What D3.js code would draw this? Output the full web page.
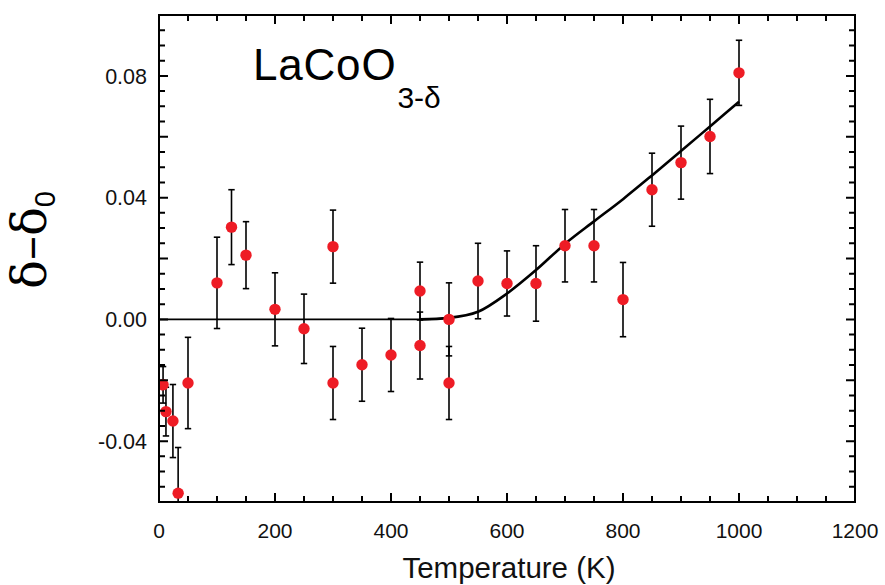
<!DOCTYPE html>
<html>
<head>
<meta charset="utf-8">
<script src="https://cdn.jsdelivr.net/npm/d3@7"></script>
<style>
  html, body { margin: 0; padding: 0; background: #fff; }
  svg { display: block; font-family: "Liberation Sans", Arial, Helvetica, sans-serif; }
</style>
</head>
<body>
<svg id="chart" width="885" height="585"></svg>
<script>
// ---- data ----
const temperatures = [7, 12, 24, 33, 50, 100, 125, 150, 200, 250, 300, 300, 350, 400, 450, 450, 500, 500, 550, 600, 650, 700, 750, 800, 850, 900, 950, 1000];
const deltaValues = [-0.0215, -0.0303, -0.0334, -0.0571, -0.0209, 0.0120, 0.0303, 0.0211, 0.0033, -0.0031, 0.0239, -0.0209, -0.0149, -0.0117, 0.0093, -0.0086, 0.0000, -0.0209, 0.0126, 0.0118, 0.0118, 0.0242, 0.0242, 0.0065, 0.0426, 0.0515, 0.0601, 0.0810];
const errorValues = [0.006, 0.008, 0.012, 0.015, 0.015, 0.015, 0.0123, 0.011, 0.012, 0.0114, 0.012, 0.012, 0.012, 0.012, 0.0095, 0.011, 0.012, 0.012, 0.0124, 0.0107, 0.0124, 0.0119, 0.0119, 0.0122, 0.012, 0.012, 0.0122, 0.0107];

const fitTemperatures = [0, 450, 500, 550, 600, 650, 700, 750, 800, 850, 900, 950, 1000];
const fitValues = [0, 0, 0.0005, 0.0025, 0.0085, 0.0162, 0.0248, 0.0322, 0.0395, 0.0473, 0.0553, 0.0634, 0.0715];

const xTickValues = [0, 200, 400, 600, 800, 1000, 1200];
const xTickLabels = ["0", "200", "400", "600", "800", "1000", "1200"];
const yTickValues = [-0.04, 0, 0.04, 0.08];
const yTickLabels = ["-0.04", "0.00", "0.04", "0.08"];

const xLabel = "Temperature (K)";
const titleMain = "LaCoO";
const titleSub = "3-δ";

// ---- layout ----
const svg = d3.select("#chart");
const pLeft = 159, pRight = 855, pTop = 15, pBottom = 502;

const x = d3.scaleLinear().domain([0, 1200]).range([pLeft, pRight]);
const y = d3.scaleLinear().domain([-0.06, 0.10]).range([pBottom, pTop]);

svg.append("defs").append("clipPath").attr("id", "plotclip")
  .append("rect").attr("x", pLeft + 1).attr("y", pTop + 1)
  .attr("width", pRight - pLeft - 2).attr("height", pBottom - pTop - 2);

const plot = svg.append("g").attr("clip-path", "url(#plotclip)");

// fit line (flat part thinner, rising part thicker)
const line = d3.line()
  .x(d => x(d[0])).y(d => y(d[1]))
  .curve(d3.curveMonotoneX);
const fitData = fitTemperatures.map((t, i) => [t, fitValues[i]]);
plot.append("path")
  .datum(fitData.filter(d => d[0] <= 500))
  .attr("d", line)
  .attr("fill", "none").attr("stroke", "#000").attr("stroke-width", 1.8);
plot.append("path")
  .datum(fitData.filter(d => d[0] >= 450))
  .attr("d", line)
  .attr("fill", "none").attr("stroke", "#000").attr("stroke-width", 2.6);

const pts = temperatures.map((t, i) => ({ t, v: deltaValues[i], e: errorValues[i] }));

// error bars
const eb = plot.append("g").attr("stroke", "#000").attr("stroke-width", 1.6);
pts.forEach(p => {
  const cx = x(p.t);
  eb.append("line").attr("x1", cx).attr("x2", cx).attr("y1", y(p.v + p.e)).attr("y2", y(p.v - p.e));
  eb.append("line").attr("x1", cx - 3.2).attr("x2", cx + 3.2).attr("y1", y(p.v + p.e)).attr("y2", y(p.v + p.e));
  eb.append("line").attr("x1", cx - 3.2).attr("x2", cx + 3.2).attr("y1", y(p.v - p.e)).attr("y2", y(p.v - p.e));
});

// points
plot.append("g").selectAll("circle").data(pts).join("circle")
  .attr("cx", d => x(d.t)).attr("cy", d => y(d.v))
  .attr("r", 5.7).attr("fill", "#ee1c25");

// ---- ticks (inward on all four sides) ----
const xAll = d3.range(0, 1201, 50);
const yAll = d3.range(-60, 101, 5).map(v => v / 1000);
const isXMajor = v => v % 200 === 0;
const isYMajor = v => Math.abs(Math.round(v * 1000) % 20) === 0;
const majLen = 9, minLen = 6;

let tickPath = "";
xAll.forEach(d => {
  const px = x(d), len = isXMajor(d) ? majLen : minLen;
  tickPath += `M${px},${pBottom}V${pBottom - len}M${px},${pTop}V${pTop + len}`;
});
yAll.forEach(d => {
  const py = y(d), len = isYMajor(d) ? majLen : minLen;
  tickPath += `M${pLeft},${py}H${pLeft + len}M${pRight},${py}H${pRight - len}`;
});
svg.append("path")
  .attr("d", tickPath)
  .attr("fill", "none")
  .attr("stroke", "#000")
  .attr("stroke-width", 2);

// tick labels
svg.append("g").selectAll("text").data(xTickValues).join("text")
  .attr("x", d => x(d)).attr("y", pBottom + 36)
  .attr("text-anchor", "middle").attr("fill", "#111")
  .style("font-size", "21px")
  .text((d, i) => xTickLabels[i]);
svg.append("g").selectAll("text").data(yTickValues).join("text")
  .attr("x", pLeft - 12).attr("y", d => y(d)).attr("dy", "0.36em")
  .attr("text-anchor", "end").attr("fill", "#111")
  .style("font-size", "21.5px")
  .text((d, i) => yTickLabels[i]);

// frame
svg.append("rect")
  .attr("x", pLeft).attr("y", pTop)
  .attr("width", pRight - pLeft).attr("height", pBottom - pTop)
  .attr("fill", "none").attr("stroke", "#000").attr("stroke-width", 2);

// axis titles
svg.append("text")
  .attr("x", 509).attr("y", 578)
  .attr("text-anchor", "middle")
  .style("font-size", "29.5px")
  .attr("fill", "#111")
  .text(xLabel);

const yl = svg.append("text")
  .attr("transform", "translate(46,240) rotate(-90)")
  .attr("text-anchor", "middle")
  .attr("fill", "#000");
yl.append("tspan").style("font-size", "48px").style("font-family", "'DejaVu Serif', serif").text("δ–δ");
yl.append("tspan").style("font-size", "29px").attr("dy", 9).text("0");

// in-chart title
const tt = svg.append("text").attr("x", 253).attr("y", 80).attr("fill", "#000");
tt.append("tspan").style("font-size", "44px").style("letter-spacing", "0.8px").text(titleMain);
tt.append("tspan").style("font-size", "30px").attr("dy", 28).attr("dx", 1).text(titleSub);
</script>
</body>
</html>
